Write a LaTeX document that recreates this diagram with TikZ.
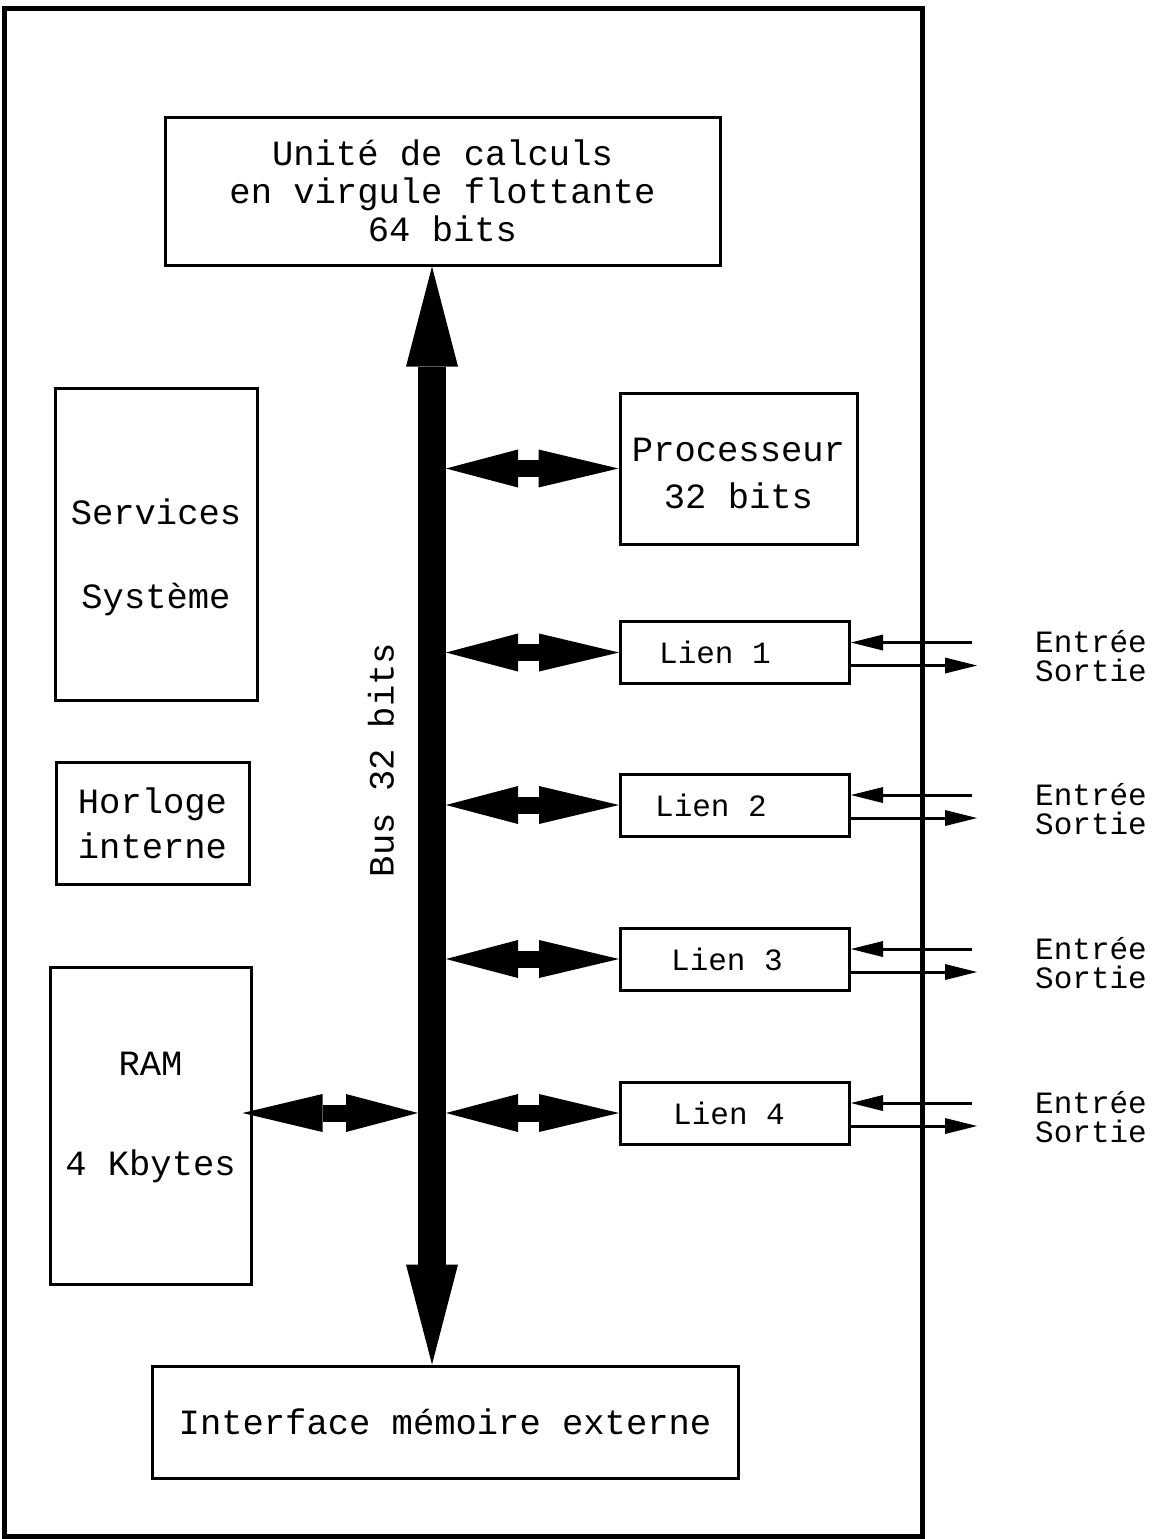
\documentclass[tikz,border=0pt]{standalone}
\usepackage{fontspec}
\setmainfont{Liberation Mono}
\usepackage{tikz}
\usetikzlibrary{arrows.meta,positioning,calc}
\newcommand{\blkfont}{\fontsize{35.5}{38}\selectfont}
\newcommand{\iofont}{\fontsize{31}{29}\selectfont}
\tikzset{
  blk/.style={draw, line width=3pt, inner sep=0pt, align=center, font=\blkfont},
  blktext/.style={inner sep=0pt, align=center, font=\blkfont},
  lienbox/.style={draw, line width=3pt, minimum width=229pt, minimum height=62pt},
  lientext/.style={inner sep=0pt, font=\iofont},
  iolabel/.style={align=left, inner sep=0pt, font=\iofont},
  busarrow/.style={line width=28pt,
    {Triangle[length=100pt,width=52pt,line width=0pt]}-{Triangle[length=100pt,width=52pt,line width=0pt]}},
  dblarrow/.style={line width=17pt,
    {Triangle[length=72pt,width=38pt,line width=0pt]}-{Triangle[length=80pt,width=38pt,line width=0pt]}},
  ioarrow/.style={line width=3pt, -{Triangle[length=32pt,width=16pt,line width=0pt]}}
}
\begin{document}
\begin{tikzpicture}[x=1pt, y=-1pt]
\useasboundingbox (0,0) rectangle (1166,1539);
% frame of the chip
\draw[line width=5pt] (4,8) rectangle (922,1536);

% blocks
\node[blk, minimum width=555pt, minimum height=148pt] (fpu) at (442.5,191)
  {Unité de calculs\\en virgule flottante\\64 bits};
\node[blk, minimum width=237pt, minimum height=151pt] (proc) at (738.5,468.5) {};
\node[blktext] (proctxt) at ([yshift=-5]proc.center) {Processeur\\[9pt]32 bits};
\node[blk, minimum width=202pt, minimum height=312pt] (serv) at (156,544) {};
\node[blktext] (servtxt) at ([yshift=-13]serv.center) {Services\\[46pt]Système};
\node[blk, minimum width=193pt, minimum height=122pt] (clk) at (152.5,823)
  {Horloge\\[7pt]interne};
\node[blk, minimum width=201pt, minimum height=317pt] (ram) at (150.5,1125.5) {};
\node[blktext] (ramtxt) at ([yshift=8]ram.center) {RAM\\[62pt]4 Kbytes};
\node[blk, minimum width=586pt, minimum height=112pt] (mem) at (445,1422)
  {Interface mémoire externe};

% bus
\coordinate (busC) at (432,0);
\coordinate (busR) at (446,0);
\coordinate (busL) at (418,0);
\draw[busarrow] (fpu.south -| busC) -- (mem.north -| busC);
\node[blktext, rotate=90] (buslbl) at (381,760) {Bus 32 bits};

\draw[dblarrow] (busR |- proc.west) -- (proc.west);

% links
\foreach \n/\y/\dx in {1/652.5/-20,2/805/-24,3/959/-8,4/1113/-6} {
  \node[lienbox] (lien\n) at (735,\y) {};
  \node[lientext] (lientxt\n) at ([xshift=\dx]lien\n.center) {Lien \n};
  \draw[dblarrow] (busR |- lien\n.west) -- (lien\n.west);
  \coordinate (in\n) at (972,\y-10);
  \coordinate (out\n) at (977,\y+13);
  \draw[ioarrow] (in\n) -- (in\n -| lien\n.east);
  \draw[ioarrow] (out\n -| lien\n.east) -- (out\n);
  \node[iolabel] (es\n) at (1091,\y+4) {Entrée\\Sortie};
}

\draw[dblarrow, shorten >=-10pt] (busL |- lien4.west) -- (ram.east |- lien4.west);
\end{tikzpicture}
\end{document}
